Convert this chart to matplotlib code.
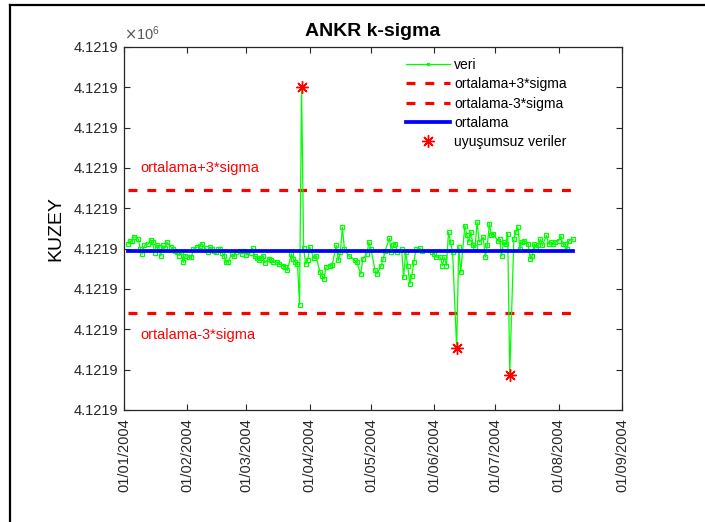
import matplotlib
matplotlib.use("Agg")
import matplotlib.pyplot as plt
import matplotlib.dates as mdates
from matplotlib.lines import Line2D
from matplotlib.ticker import FuncFormatter, FixedLocator
import numpy as np
from datetime import date, timedelta

plt.rcParams['font.family'] = ['Liberation Sans', 'DejaVu Sans']

# ANKR station, daily north coordinate (m); day offsets from 01/01/2004
gun = [2, 3, 4, 5, 7, 8, 9, 10, 12, 13, 14, 15, 16, 17, 18, 19, 20, 21, 23, 24,
       25, 26, 27, 28, 29, 30, 32, 33, 34, 36, 37, 38, 40, 41, 42, 43, 44, 45, 46, 47,
       48, 49, 50, 51, 53, 54, 55, 57, 58, 59, 60, 62, 63, 64, 65, 66, 67, 68, 69, 71,
       72, 73, 75, 76, 78, 79, 80, 82, 83, 84, 85, 86, 87, 88, 89, 90, 91, 93, 94, 96,
       97, 98, 99, 101, 102, 104, 105, 106, 107, 108, 110, 113, 114, 116, 117, 119, 120, 121, 123, 124,
       126, 127, 128, 130, 131, 132, 133, 134, 136, 137, 138, 139, 140, 141, 142, 143, 145, 146, 151, 152,
       153, 155, 156, 157, 158, 159, 160, 161, 163, 164, 165, 167, 168, 169, 170, 171, 172, 173, 174, 176,
       177, 178, 179, 180, 181, 183, 184, 185, 186, 187, 188, 189, 191, 192, 193, 194, 195, 196, 198, 199,
       200, 201, 202, 203, 204, 205, 207, 208, 209, 210, 211, 213, 214, 215, 216, 217, 218, 220]

kuzey = [4121934.5412, 4121934.5418, 4121934.5420, 4121934.5430, 4121934.5424, 4121934.5399, 4121934.5387, 4121934.5408, 4121934.5412, 4121934.5422,
         4121934.5416, 4121934.5390, 4121934.5409, 4121934.5404, 4121934.5383, 4121934.5408, 4121934.5401, 4121934.5416, 4121934.5404, 4121934.5399,
         4121934.5393, 4121934.5391, 4121934.5383, 4121934.5391, 4121934.5366, 4121934.5383, 4121934.5379, 4121934.5379, 4121934.5399, 4121934.5404,
         4121934.5406, 4121934.5412, 4121934.5401, 4121934.5391, 4121934.5404, 4121934.5398, 4121934.5393, 4121934.5391, 4121934.5398, 4121934.5399,
         4121934.5390, 4121934.5383, 4121934.5366, 4121934.5368, 4121934.5387, 4121934.5383, 4121934.5391, 4121934.5395, 4121934.5387, 4121934.5395,
         4121934.5385, 4121934.5390, 4121934.5401, 4121934.5381, 4121934.5376, 4121934.5371, 4121934.5376, 4121934.5383, 4121934.5365, 4121934.5375,
         4121934.5371, 4121934.5366, 4121934.5366, 4121934.5362, 4121934.5358, 4121934.5354, 4121934.5346, 4121934.5387, 4121934.5375, 4121934.5366,
         4121934.5362, 4121934.5261, 4121934.5802, 4121934.5401, 4121934.5362, 4121934.5371, 4121934.5404, 4121934.5376, 4121934.5383, 4121934.5342,
         4121934.5333, 4121934.5325, 4121934.5354, 4121934.5358, 4121934.5360, 4121934.5408, 4121934.5371, 4121934.5391, 4121934.5453, 4121934.5399,
         4121934.5383, 4121934.5371, 4121934.5366, 4121934.5337, 4121934.5375, 4121934.5387, 4121934.5416, 4121934.5399, 4121934.5346, 4121934.5337,
         4121934.5358, 4121934.5375, 4121934.5395, 4121934.5426, 4121934.5391, 4121934.5409, 4121934.5412, 4121934.5391, 4121934.5399, 4121934.5329,
         4121934.5391, 4121934.5358, 4121934.5313, 4121934.5333, 4121934.5366, 4121934.5398, 4121934.5401, 4121934.5395, 4121934.5391, 4121934.5387,
         4121934.5379, 4121934.5379, 4121934.5358, 4121934.5379, 4121934.5358, 4121934.5441, 4121934.5416, 4121934.5391, 4121934.5153, 4121934.5404,
         4121934.5342, 4121934.5457, 4121934.5433, 4121934.5416, 4121934.5441, 4121934.5408, 4121934.5404, 4121934.5466, 4121934.5416, 4121934.5428,
         4121934.5379, 4121934.5408, 4121934.5462, 4121934.5433, 4121934.5437, 4121934.5420, 4121934.5424, 4121934.5383, 4121934.5416, 4121934.5412,
         4121934.5437, 4121934.5087, 4121934.5424, 4121934.5441, 4121934.5453, 4121934.5399, 4121934.5416, 4121934.5420, 4121934.5412, 4121934.5375,
         4121934.5383, 4121934.5412, 4121934.5404, 4121934.5408, 4121934.5424, 4121934.5408, 4121934.5433, 4121934.5412, 4121934.5416, 4121934.5412,
         4121934.5416, 4121934.5420, 4121934.5431, 4121934.5412, 4121934.5412, 4121934.5399, 4121934.5420, 4121934.5423]

ortalama = 4121934.5393
sigma = 0.00505
k = 3

y_ticks = [4121934.50, 4121934.51, 4121934.52, 4121934.53, 4121934.54,
           4121934.55, 4121934.56, 4121934.57, 4121934.58, 4121934.59]
x_ticks = [date(2004, m, 1) for m in range(1, 10)]

baslangic = date(2004, 1, 1)
tarih = np.array([baslangic + timedelta(days=g) for g in gun])
kuzey_arr = np.array(kuzey)
ust = ortalama + k * sigma
alt = ortalama - k * sigma
uyumsuz = (kuzey_arr > ust) | (kuzey_arr < alt)

GREEN = (0, 1, 0)
RED = (1, 0, 0)
BLUE = (0, 0, 1)
AXC = '#262626'

fig = plt.figure(figsize=(7.05, 5.22), dpi=100)
fig.patch.set_facecolor('white')
ax = fig.add_axes([124 / 705, 1 - 410 / 522, 498 / 705, 363 / 522])

ax.plot(tarih, kuzey_arr, '-', color=GREEN, lw=0.9, marker='s', ms=2.6,
        mfc='none', mec=GREEN, mew=0.9, zorder=3)
span = [tarih[0], tarih[-1]]
ax.plot(span, [ust, ust], color=RED, lw=2.3, dashes=(2.8, 3.1), zorder=2)
ax.plot(span, [alt, alt], color=RED, lw=2.3, dashes=(2.8, 3.1), zorder=2)
ax.plot(span, [ortalama, ortalama], color=BLUE, lw=2.7, zorder=4)
ax.plot(tarih[uyumsuz], kuzey_arr[uyumsuz], ls='none', marker=(8, 2, 0),
        ms=9, color=RED, mew=1.0, zorder=5)

ax.text(date(2004, 1, 9), 4121934.560, 'ortalama+3*sigma', color=RED,
        fontsize=10.5, va='center', ha='left')
ax.text(date(2004, 1, 9), 4121934.5185, 'ortalama-3*sigma', color=RED,
        fontsize=10.5, va='center', ha='left')

ax.set_xlim(date(2004, 1, 1), date(2004, 9, 1))
ax.set_ylim(y_ticks[0], y_ticks[-1])
ax.xaxis.set_major_locator(FixedLocator(mdates.date2num(x_ticks)))
ax.xaxis.set_major_formatter(mdates.DateFormatter('%d/%m/%Y'))
ax.yaxis.set_major_locator(FixedLocator(y_ticks))
ax.yaxis.set_major_formatter(FuncFormatter(lambda v, p: f'{v / 1e6:.4f}'))
for lbl in ax.get_xticklabels():
    lbl.set_rotation(90)

ax.tick_params(direction='in', top=True, right=True, length=4, width=0.8,
               colors=AXC, labelsize=10.5, pad=4)
ax.tick_params(axis='x', pad=6)
for s in ax.spines.values():
    s.set_color(AXC)
    s.set_linewidth(0.9)

ax.set_title('ANKR k-sigma', fontsize=14, fontweight='bold', pad=8, color='black')
ax.set_ylabel('KUZEY', fontsize=14, color='black')
ax.yaxis.set_label_coords(-0.12, 0.5)
ax.text(0.0, 1.012, r'$\times\mathregular{10^{6}}$', transform=ax.transAxes,
        fontsize=10.5, color='#555555', ha='left', va='bottom')

handles = [
    Line2D([], [], color=GREEN, lw=0.9, marker='s', ms=2, mfc=GREEN, mec=GREEN),
    Line2D([], [], color=RED, lw=2.3, dashes=(2.8, 3.1)),
    Line2D([], [], color=RED, lw=2.3, dashes=(2.8, 3.1)),
    Line2D([], [], color=BLUE, lw=2.7),
    Line2D([], [], ls='none', marker=(8, 2, 0), ms=9, color=RED, mew=1.0),
]
labels = ['veri', 'ortalama+3*sigma', 'ortalama-3*sigma', 'ortalama',
          'uyuşumsuz veriler']
fig.legend(handles, labels, loc='upper left',
           bbox_to_anchor=(406 / 705, 1 - 58 / 522), frameon=False,
           fontsize=10, handlelength=3.2, handletextpad=0.25,
           labelspacing=0.38, borderpad=0, borderaxespad=0)

# outer frame
fig.add_artist(Line2D([10 / 705, 10 / 705], [0, 1 - 5 / 522],
                      transform=fig.transFigure, color='black', lw=1.6))
fig.add_artist(Line2D([10 / 705, 1], [1 - 5 / 522, 1 - 5 / 522],
                      transform=fig.transFigure, color='black', lw=1.6))

fig.savefig('out.png', dpi=100)
